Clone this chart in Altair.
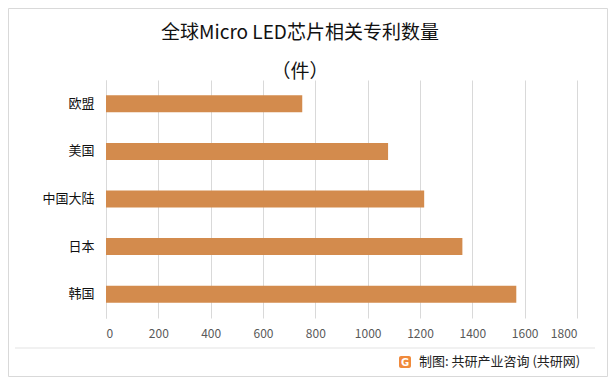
import altair as alt
import pandas as pd

categories = ["欧盟", "美国", "中国大陆", "日本", "韩国"]
values = [750, 1078, 1216, 1362, 1568]
x_ticks = [0, 200, 400, 600, 800, 1000, 1200, 1400, 1600, 1800]
title_line1 = "全球Micro LED芯片相关专利数量"
title_line2 = "（件）"
footer = "制图: 共研产业咨询 (共研网)"

df = pd.DataFrame({"region": categories, "count": values})
one = pd.DataFrame({"a": [0]})

FONT = "Noto Sans CJK SC"
BAR = "#D38B4D"

bars = alt.Chart(df).mark_bar(color=BAR, size=17).encode(
    x=alt.X("count:Q", scale=alt.Scale(domain=[0, 1800], nice=False),
            axis=alt.Axis(values=x_ticks, format="d", title=None, grid=True, gridColor="#d9d9d9",
                          domain=False, ticks=False, labelColor="#595959",
                          labelFontSize=12, labelPadding=10, labelFont=FONT)),
    y=alt.Y("region:N", sort=categories,
            axis=alt.Axis(title=None, domain=True, domainColor="#d9d9d9", ticks=False,
                          labelColor="#111111", labelFontSize=13, labelPadding=12,
                          labelFont=FONT)),
)

border = alt.Chart(one).mark_rect(filled=False, stroke="#d9d9d9", strokeWidth=1).encode(
    x=alt.value(-97.5), x2=alt.value(501.5), y=alt.value(-71.5), y2=alt.value(296.5)
)

sep = alt.Chart(one).mark_rule(color="#e3e3e3", strokeWidth=1).encode(
    x=alt.value(-91), x2=alt.value(489), y=alt.value(268)
)

t1 = alt.Chart(one).mark_text(text=title_line1, font=FONT, fontSize=19, color="#111111",
                              align="center", baseline="middle").encode(
    x=alt.value(194), y=alt.value(-47))
t2 = alt.Chart(one).mark_text(text=title_line2, font=FONT, fontSize=19, color="#111111",
                              align="center", baseline="middle").encode(
    x=alt.value(194), y=alt.value(-8))

logo = alt.Chart(one).mark_rect(color="#F08A3C", cornerRadius=2).encode(
    x=alt.value(293), x2=alt.value(305), y=alt.value(276), y2=alt.value(288))
logo_g = alt.Chart(one).mark_text(text="G", font="DejaVu Sans", fontSize=10, fontWeight="bold",
                                  color="white", align="center", baseline="middle").encode(
    x=alt.value(299), y=alt.value(282.5))
foot = alt.Chart(one).mark_text(text=footer, font=FONT, fontSize=13, color="#222222",
                                align="left", baseline="middle").encode(
    x=alt.value(313), y=alt.value(282))

chart = alt.layer(border, sep, bars, t1, t2, logo, logo_g, foot).properties(
    width=471, height=238,
    autosize=alt.AutoSizeParams(type="none"),
    padding={"left": 98, "top": 72, "right": 31, "bottom": 59},
    background="white",
).configure_view(stroke=None)

chart.save("out.html", embed_options={"renderer": "svg", "actions": False})
